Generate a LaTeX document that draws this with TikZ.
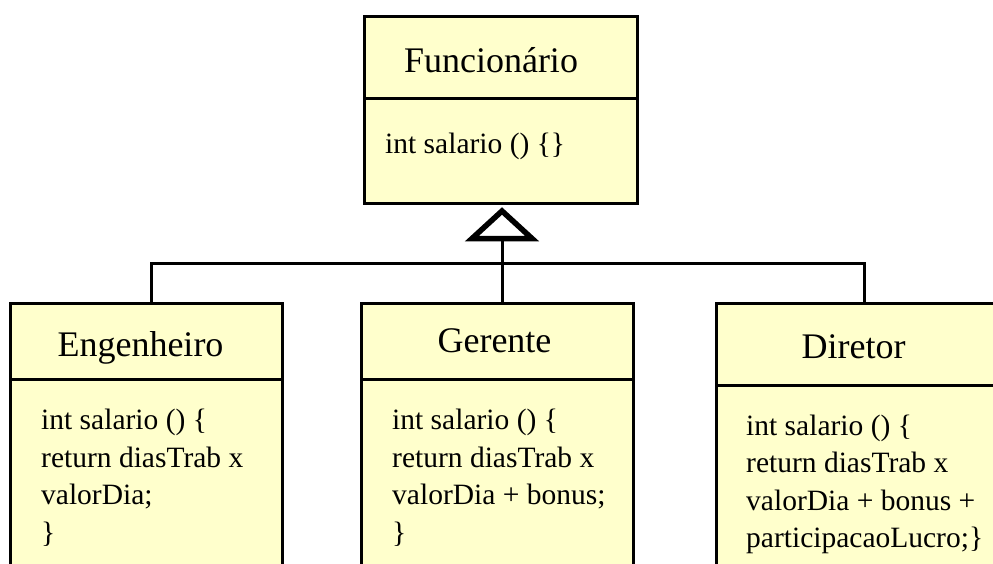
\documentclass[tikz,border=0pt]{standalone}
\usepackage{fontspec}
\setmainfont{Liberation Serif}
\definecolor{classfill}{HTML}{FFFFCC}
\begin{document}
\begin{tikzpicture}[x=1pt,y=-1pt,
  classbox/.style={draw=black, line width=3pt, fill=classfill, rectangle,
    anchor=north west, inner sep=0pt, outer sep=0pt},
  classtitle/.style={font=\fontsize{36}{40}\selectfont, anchor=base, inner sep=0pt},
  classbody/.style={font=\fontsize{29.5}{37.5}\selectfont, align=left,
    anchor=base west, inner sep=0pt},
  wire/.style={line width=3pt},
  gen/.style={line width=5.5pt, fill=white, line join=miter}]
\useasboundingbox (0,0) rectangle (993,563);
\clip (0,0) rectangle (993,563);

% superclass
\node[classbox, minimum width=273pt, minimum height=187pt] (func) at (364,16) {};
\draw[wire] ([yshift=-82pt]func.north west) -- ([yshift=-82pt]func.north east);
\node[classtitle] (funcT) at (491,72) {Funcionário};
\node[classbody] (funcB) at (385,153) {int salario () \{\}};

% subclasses (the base anchor of a multi-line body is its last line)
\node[classbox, minimum width=272pt, minimum height=300pt] (eng) at (10,303) {};
\draw[wire] ([yshift=-76pt]eng.north west) -- ([yshift=-76pt]eng.north east);
\node[classtitle] (engT) at (140.5,356) {Engenheiro};
\node[classbody] (engB) at (41,542) {int salario () \{\\return diasTrab x\\valorDia;\\\}};

\node[classbox, minimum width=272pt, minimum height=300pt] (ger) at (361,303) {};
\draw[wire] ([yshift=-76pt]ger.north west) -- ([yshift=-76pt]ger.north east);
\node[classtitle] (gerT) at (494.5,352) {Gerente};
\node[classbody] (gerB) at (392,542) {int salario () \{\\return diasTrab x\\valorDia + bonus;\\\}};

\node[classbox, minimum width=290pt, minimum height=300pt] (dir) at (716,303) {};
\draw[wire] ([yshift=-82pt]dir.north west) -- ([yshift=-82pt]dir.north east);
\node[classtitle] (dirT) at (853.5,358) {Diretor};
\node[classbody] (dirB) at (746,547.5) {int salario () \{\\return diasTrab x\\valorDia + bonus +\\participacaoLucro;\}};

% generalization: hollow triangle and the tree of lines below it
\coordinate (apex) at (502,211);
\coordinate (triL) at (472,238.5);
\coordinate (triR) at (532,238.5);
\coordinate (triB) at (502,238.5);
\coordinate (bus) at (502,263);
\coordinate (jE) at (151,303);
\coordinate (jG) at (502,303);
\coordinate (jD) at (864,303);
\draw[wire] (triB) -- (jG);
\draw[wire] (jE) |- (bus) -| (jD);
\draw[gen] (triL) -- (apex) -- (triR) -- cycle;
\end{tikzpicture}
\end{document}
